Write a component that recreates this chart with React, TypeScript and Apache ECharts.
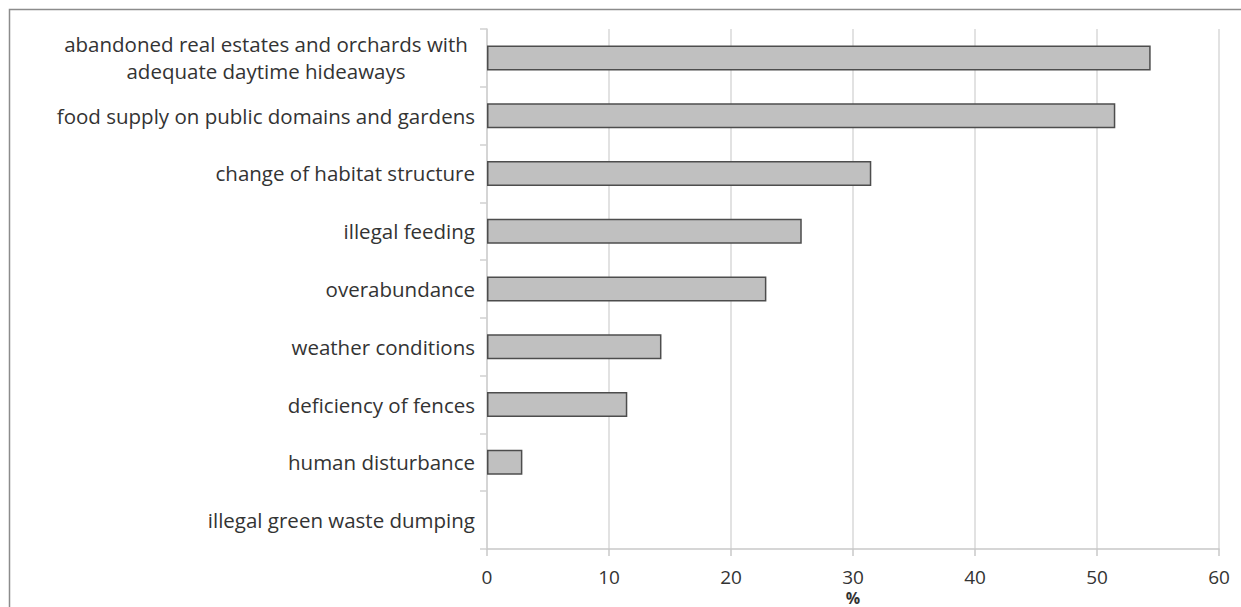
import React, { useEffect, useRef } from "react";
import * as echarts from "echarts";

const categories = [
  "abandoned real estates and orchards with\nadequate daytime hideaways",
  "food supply on public domains and gardens",
  "change of habitat structure",
  "illegal feeding",
  "overabundance",
  "weather conditions",
  "deficiency of fences",
  "human disturbance",
  "illegal green waste dumping",
];
const values = [54.4, 51.5, 31.5, 25.8, 22.9, 14.3, 11.5, 2.9, 0];
const xTicks = [0, 10, 20, 30, 40, 50, 60];
const xAxisName = "%";

const FONT = "Open Sans";

export default function App() {
  const ref = useRef<HTMLDivElement>(null);
  useEffect(() => {
    const chart = echarts.init(ref.current!, undefined, { renderer: "svg" });
    const xMin = xTicks[0];
    const xMax = xTicks[xTicks.length - 1];
    chart.setOption({
      animation: false,
      backgroundColor: "#ffffff",
      grid: { left: 487, right: 22, top: 29, bottom: 58, containLabel: false, outerBoundsMode: "none" },
      xAxis: {
        type: "value",
        min: xMin,
        max: xMax,
        interval: 10,
        axisLine: { show: true, lineStyle: { color: "#c8c8c8", width: 1.5 } },
        axisTick: { show: true, length: 7, lineStyle: { color: "#c8c8c8", width: 1.5 } },
        axisLabel: { fontFamily: FONT, fontSize: 19, color: "#333", margin: 18 },
        splitLine: { show: true, lineStyle: { color: "#d9d9d9", width: 1.5 } },
      },
      yAxis: {
        type: "category",
        inverse: true,
        data: categories,
        axisLine: { show: true, lineStyle: { color: "#d0d0d0", width: 1.5 } },
        axisTick: { show: true, length: 7, lineStyle: { color: "#d0d0d0", width: 1.5 } },
        axisLabel: {
          fontFamily: FONT,
          fontSize: 20.5,
          color: "#333",
          margin: 12,
          lineHeight: 27,
          formatter: (v: string) =>
            v.indexOf("\n") >= 0
              ? v
                  .split("\n")
                  .map((l) => "{c|" + l + "}")
                  .join("\n")
              : v,
          rich: {
            c: { fontFamily: FONT, fontSize: 20.5, color: "#333", width: 418, align: "center", lineHeight: 27 },
          },
        },
      },
      series: [
        {
          type: "bar",
          data: values.map((v) => (v === 0 ? { value: v, itemStyle: { borderWidth: 0 } } : v)),
          barWidth: 25,
          itemStyle: { color: "#c0c0c0", borderColor: "#4d4d4d", borderWidth: 1.5 },
        },
      ],
    });
    const midX = chart.convertToPixel({ xAxisIndex: 0 }, (xMin + xMax) / 2) as number;
    chart.setOption({
      graphic: [
        {
          type: "rect",
          shape: { x: 9.5, y: 9.5, width: 1260, height: 640 },
          style: { fill: "none", stroke: "#8c8c8c", lineWidth: 1.5 },
          silent: true,
        },
        {
          type: "text",
          x: midX,
          y: 598,
          style: {
            text: xAxisName,
            fontFamily: FONT,
            fontSize: 16,
            fontWeight: "bold",
            fill: "#333",
            align: "center",
            verticalAlign: "middle",
          },
          silent: true,
        },
      ],
    });
    return () => chart.dispose();
  }, []);
  return (
    <div
      ref={ref}
      style={{ position: "fixed", left: 0, top: 0, width: 1241, height: 607 }}
    />
  );
}
